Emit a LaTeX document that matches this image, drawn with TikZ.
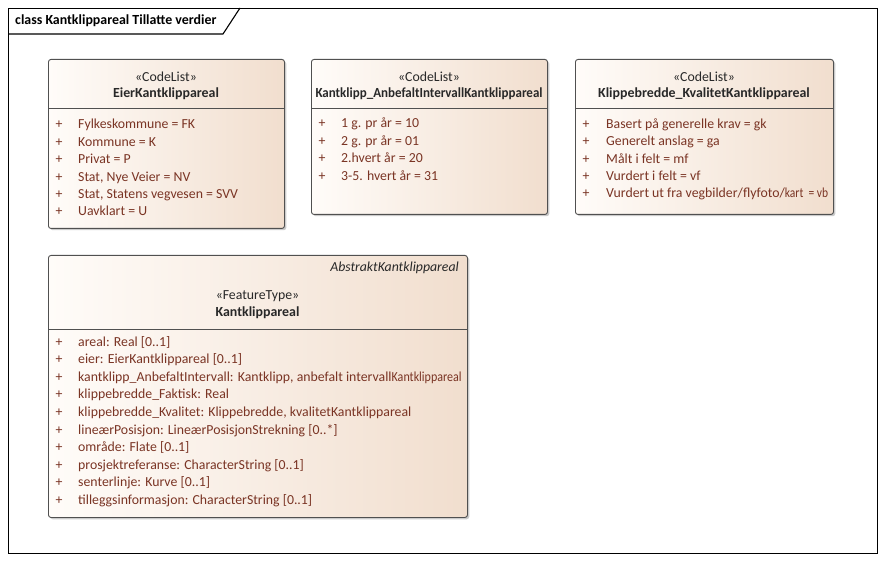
\documentclass[tikz,border=0pt]{standalone}
\usepackage{fontspec}
\setmainfont{Carlito}
\usepackage{graphicx}
\usetikzlibrary{shadows}
\definecolor{boxL}{RGB}{255,252,249}
\definecolor{boxR}{RGB}{241,222,206}
\definecolor{boxline}{RGB}{80,80,80}
\definecolor{attrcol}{RGB}{122,52,36}
\definecolor{headcol}{RGB}{40,40,40}
\newcommand\fsreg{\fontsize{13.8}{16}\selectfont}
\newcommand\fsbold{\fontsize{13.9}{16}\selectfont\bfseries}
\newsavebox\fitbox
\newlength\fitw
\newcommand\fitline[3]{\sbox\fitbox{#2}\setlength\fitw{\dimexpr#1-\wd\fitbox\relax}\usebox\fitbox\resizebox{\fitw}{\height}{#3}}
\begin{document}
\begin{tikzpicture}[x=1pt,y=-1pt,
  umlbox/.style={draw=boxline, line width=0.9pt, rounded corners=2.5pt,
    left color=boxL, right color=boxR,
    drop shadow={shadow xshift=1.8pt, shadow yshift=-1.8pt, fill=black!40, opacity=0.5},
    inner sep=0, anchor=north west},
  sepline/.style={draw=boxline, line width=0.9pt},
  stereo/.style={font=\fsreg, text=headcol, anchor=base, inner sep=0},
  cname/.style={font=\fsbold, text=headcol, anchor=base, inner sep=0},
  attr/.style={font=\fsreg, text=attrcol, anchor=base west, inner sep=0},
  vis/.style={font=\fsreg, text=attrcol, anchor=base, inner sep=0},
  framebox/.style={draw=black, line width=1.1pt, inner sep=0, anchor=north west},
]
\useasboundingbox (0,0) rectangle (886,561);
\fill[white] (0,0) rectangle (886,561);

% frame
\node[framebox, minimum width=869pt, minimum height=545pt] (frame) at (8,8) {};
\draw[line width=1.1pt] (frame.north west |- 0,34) -- (223,34) -- (240,8);
\node[font=\fsbold, anchor=base west, inner sep=0] (title) at (15,25) {class Kantklippareal Tillatte verdier};

% Box 1
\node[umlbox, minimum width=236pt, minimum height=169pt] (eier) at (48,59) {};
\node[stereo] (eiers) at (166,81.7) {«CodeList»};
\node[cname] (eiern) at (166,97.7) {EierKantklippareal};
\draw[sepline] (eier.west |- 0,108) -- (eier.east |- 0,108);
\foreach \t [count=\i] in {Fylkeskommune = FK, Kommune = K, Privat = P, {Stat, Nye Veier = NV}, {Stat, Statens vegvesen = SVV}, Uavklart = U} {
  \node[vis] (eierv\i) at (59,{129+17.4*(\i-1)}) {+};
  \node[attr] (eiera\i) at (78,{129+17.4*(\i-1)}) {\t};
}

% Box 2
\node[umlbox, minimum width=236pt, minimum height=155pt] (intv) at (311,59) {};
\node[stereo] (intvs) at (429,81.7) {«CodeList»};
\node[cname] (intvn) at (429,97.7) {\resizebox{227pt}{\height}{Kantklipp\_AnbefaltIntervallKantklippareal}};
\draw[sepline] (intv.west |- 0,108.5) -- (intv.east |- 0,108.5);
\foreach \t [count=\i] in {1 g. pr år = 10, 2 g. pr år = 01, 2.hvert år = 20, 3-5. hvert år = 31} {
  \node[vis] (intvv\i) at (322,{128+17.4*(\i-1)}) {+};
  \node[attr] (intva\i) at (341,{128+17.4*(\i-1)}) {\t};
}

% Box 3
\node[umlbox, minimum width=258pt, minimum height=155pt] (kval) at (575,59) {};
\node[stereo] (kvals) at (704,81.7) {«CodeList»};
\node[cname] (kvaln) at (704,97.7) {Klippebredde\_KvalitetKantklippareal};
\draw[sepline] (kval.west |- 0,108) -- (kval.east |- 0,108);
\foreach \t [count=\i] in {Basert på generelle krav = gk, Generelt anslag = ga, Målt i felt = mf, Vurdert i felt = vf, {\fitline{222pt}{Vurdert ut fra vegbilder/flyfoto/}{kart\ \ = vb}}} {
  \node[vis] (kvalv\i) at (586,{128.3+17.4*(\i-1)}) {+};
  \node[attr] (kvala\i) at (606,{128.3+17.4*(\i-1)}) {\t};
}

% Box 4
\node[umlbox, minimum width=419pt, minimum height=262pt] (kant) at (48,255) {};
\node[font=\fsreg\itshape, text=headcol, anchor=base east, inner sep=0] (kantab) at (459,271.7) {AbstraktKantklippareal};
\node[stereo] (kants) at (257.5,300) {«FeatureType»};
\node[cname] (kantn) at (257.5,316.5) {Kantklippareal};
\draw[sepline] (kant.west |- 0,329) -- (kant.east |- 0,329);
\foreach \t [count=\i] in {areal: Real [0..1], eier: EierKantklippareal [0..1], {\fitline{383.5pt}{kantklipp\_AnbefaltIntervall: Kantklipp, anbefalt intervall}{Kantklippareal}}, klippebredde\_Faktisk: Real, {klippebredde\_Kvalitet: Klippebredde, kvalitetKantklippareal}, lineærPosisjon: LineærPosisjonStrekning [0..*], område: Flate [0..1], prosjektreferanse: CharacterString [0..1], senterlinje: Kurve [0..1], tilleggsinformasjon: CharacterString [0..1]} {
  \node[vis] (kantv\i) at (59,{346+17.6*(\i-1)}) {+};
  \node[attr] (kanta\i) at (78,{346+17.6*(\i-1)}) {\t};
}
\end{tikzpicture}
\end{document}
